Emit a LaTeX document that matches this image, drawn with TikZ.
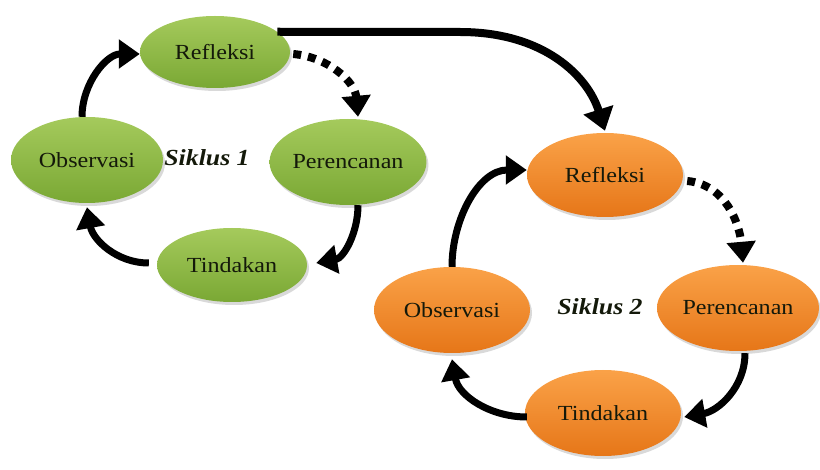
\documentclass[tikz,border=0pt]{standalone}
\usepackage{fontspec}
\setmainfont{Liberation Serif}[FakeStretch=1.12]
\usetikzlibrary{shapes.geometric,arrows.meta,shadows}
\definecolor{gtop}{RGB}{165,202,92}
\definecolor{gbot}{RGB}{122,168,52}
\definecolor{otop}{RGB}{250,162,72}
\definecolor{obot}{RGB}{230,118,24}
\definecolor{txt}{RGB}{20,25,10}
\tikzset{
  phase/.style={ellipse, inner sep=0pt, draw=none, text=txt,
    font=\fontsize{21.5}{24}\selectfont,
    drop shadow={shadow xshift=2pt, shadow yshift=-3pt, opacity=0.25, fill=black!60}},
  greenph/.style={phase, top color=gtop, bottom color=gbot},
  orangeph/.style={phase, top color=otop, bottom color=obot},
  cyclabel/.style={font=\fontsize{23}{26}\selectfont\bfseries\itshape, text=txt},
  arr/.style={line width=7pt, -{Triangle[length=21pt,width=28pt]}},
  darr/.style={line width=8pt, dash pattern=on 8pt off 7pt, -{Triangle[length=21pt,width=28pt]}},
  bigarr/.style={line width=8pt, -{Triangle[length=22pt,width=30pt]}}
}
\begin{document}
\begin{tikzpicture}[x=1pt,y=1pt]
\useasboundingbox (0,0) rectangle (820,469);
% cycle 1
\node[greenph, minimum width=150pt, minimum height=72pt] (ref1) at (215,417) {Refleksi};
\node[greenph, minimum width=152pt, minimum height=86pt] (obs1) at (87,309) {Observasi};
\node[greenph, minimum width=156pt, minimum height=86pt] (per1) at (348,307) {Perencanan};
\node[greenph, minimum width=150pt, minimum height=74pt] (tin1) at (232,204) {Tindakan};
\node[cyclabel] (sik1) at (207,311) {Siklus 1};
% cycle 2
\node[orangeph, minimum width=156pt, minimum height=84pt] (ref2) at (605,294) {Refleksi};
\node[orangeph, minimum width=156pt, minimum height=86pt] (obs2) at (452,159) {Observasi};
\node[orangeph, minimum width=162pt, minimum height=86pt] (per2) at (738,161) {Perencanan};
\node[orangeph, minimum width=156pt, minimum height=86pt] (tin2) at (603,56) {Tindakan};
\node[cyclabel] (sik2) at (600,162) {Siklus 2};
% arrows cycle 1
\draw[arr] ([xshift=-5pt]obs1.north) to[out=90,in=180] ([yshift=-2pt]ref1.west);
\draw[darr] ([xshift=3pt,yshift=-2pt]ref1.east) to[out=-5,in=95] ([xshift=10pt,yshift=2pt]per1.north);
\draw[arr] ([xshift=10pt]per1.south) to[out=-90,in=10] ([xshift=9pt,yshift=2pt]tin1.east);
\draw[arr] ([xshift=-8pt,yshift=2pt]tin1.west) to[out=180,in=-80] ([yshift=-4pt]obs1.south);
% long arrow
\draw[bigarr] (ref1.18) -- (460,437) .. controls (545,437) and (588,392) .. ([yshift=2pt]ref2.north);
% arrows cycle 2
\draw[arr] (obs2.north) to[out=90,in=180] ([yshift=5pt]ref2.west);
\draw[darr] ([xshift=4pt,yshift=-6pt]ref2.east) to[out=-5,in=95] ([xshift=5pt,yshift=2pt]per2.north);
\draw[arr] ([xshift=7pt,yshift=-2pt]per2.south) to[out=-90,in=10] ([xshift=3pt,yshift=-4pt]tin2.east);
\draw[arr] ([xshift=2pt,yshift=-4pt]tin2.west) to[out=180,in=-80] ([yshift=-6pt]obs2.south);
\end{tikzpicture}
\end{document}
